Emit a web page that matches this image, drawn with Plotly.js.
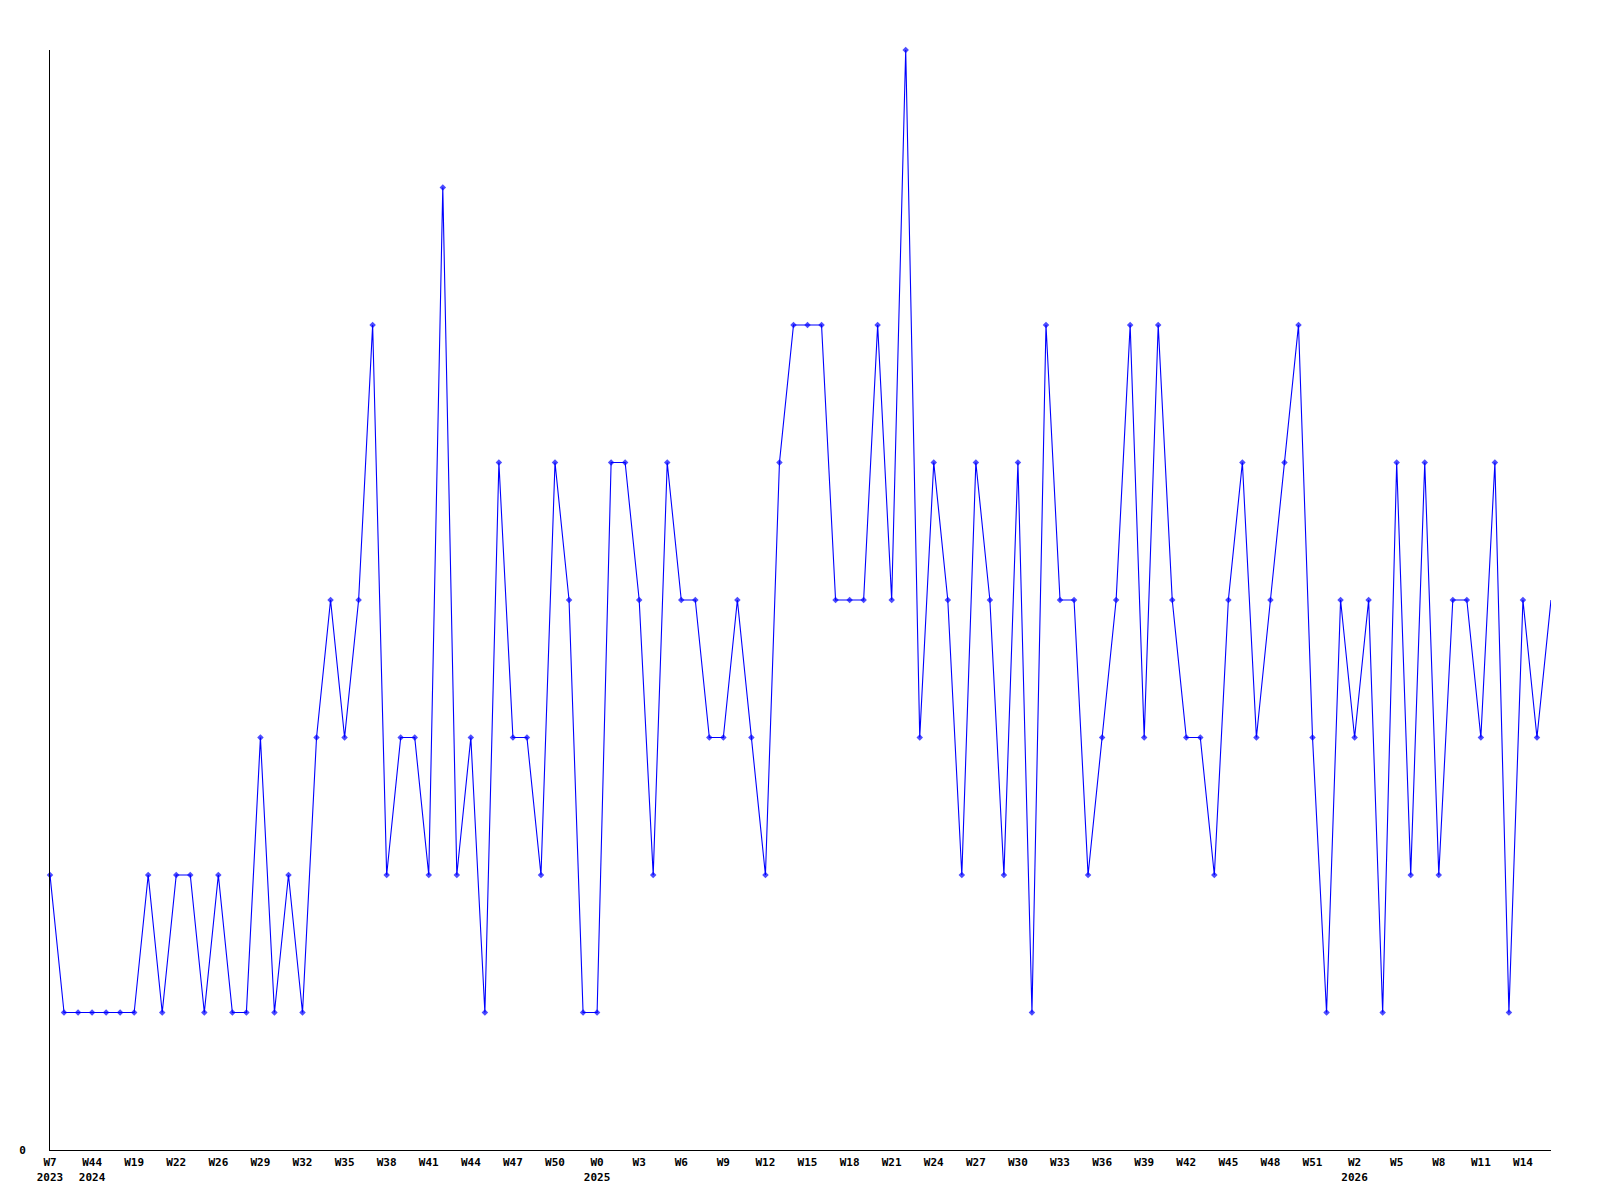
<!DOCTYPE html>
<html>
<head>
<meta charset="utf-8">
<script src="https://cdn.plot.ly/plotly-3.0.1.min.js"></script>
<style>
  html, body { margin: 0; padding: 0; background: #ffffff; }
  #chart { width: 1600px; height: 1200px; }
</style>
</head>
<body>
<div id="chart"></div>
<script>
// Weekly counts, one value per week
const weeklyValues = [
  2, 1, 1, 1, 1, 1, 1, 2, 1, 2,
  2, 1, 2, 1, 1, 3, 1, 2, 1, 3,
  4, 3, 4, 6, 2, 3, 3, 2, 7, 2,
  3, 1, 5, 3, 3, 2, 5, 4, 1, 1,
  5, 5, 4, 2, 5, 4, 4, 3, 3, 4,
  3, 2, 5, 6, 6, 6, 4, 4, 4, 6,
  4, 8, 3, 5, 4, 2, 5, 4, 2, 5,
  1, 6, 4, 4, 2, 3, 4, 6, 3, 6,
  4, 3, 3, 2, 4, 5, 3, 4, 5, 6,
  3, 1, 4, 3, 4, 1, 5, 2, 5, 2,
  4, 4, 3, 5, 1, 4, 3, 4
];

// X-axis tick labels (every third week), as printed in the reference
const tickLabels = [
  "W7<br>2023", "W44<br>2024", "W19", "W22", "W26", "W29", "W32", "W35", "W38", "W41",
  "W44", "W47", "W50", "W0<br>2025", "W3", "W6", "W9", "W12", "W15", "W18",
  "W21", "W24", "W27", "W30", "W33", "W36", "W39", "W42", "W45", "W48",
  "W51", "W2<br>2026", "W5", "W8", "W11", "W14"
];
const tickStep = 3;

const yTickVals = [0];
const yTickText = ["0"];

const xIdx = weeklyValues.map((_, i) => i);
const tickVals = tickLabels.map((_, i) => i * tickStep);
const markerSizes = weeklyValues.map((_, i) => (i === weeklyValues.length - 1 ? 0 : 5));

const trace = {
  x: xIdx,
  y: weeklyValues,
  type: 'scatter',
  mode: 'lines+markers',
  line: { color: '#0000ff', width: 1.1 },
  marker: { color: '#0000ff', symbol: 'diamond', size: markerSizes, line: { width: 0 } },
  cliponaxis: false,
  hoverinfo: 'x+y'
};

const tickFont = { family: '"DejaVu Sans Mono", monospace', size: 11, color: '#000000', weight: 'bold' };

const layout = {
  width: 1600,
  height: 1200,
  paper_bgcolor: '#ffffff',
  plot_bgcolor: '#ffffff',
  showlegend: false,
  margin: { l: 50, r: 49, t: 50, b: 50, pad: 0 },
  font: { family: '"DejaVu Sans Mono", monospace', size: 11, color: '#000000' },
  xaxis: {
    range: [0, weeklyValues.length - 1],
    tickmode: 'array',
    tickvals: tickVals,
    ticktext: tickLabels,
    tickangle: 0,
    ticks: '',
    ticklabelstandoff: 2,
    showgrid: false,
    zeroline: false,
    showline: true,
    linecolor: '#000000',
    linewidth: 1,
    tickfont: tickFont,
    fixedrange: true
  },
  yaxis: {
    range: [0, 8],
    tickmode: 'array',
    tickvals: yTickVals,
    ticktext: yTickText,
    ticks: '',
    ticklabelstandoff: 21,
    showgrid: false,
    zeroline: false,
    showline: true,
    linecolor: '#000000',
    linewidth: 1,
    tickfont: tickFont,
    fixedrange: true
  }
};

Plotly.newPlot('chart', [trace], layout, { displayModeBar: false, staticPlot: true });
</script>
</body>
</html>
